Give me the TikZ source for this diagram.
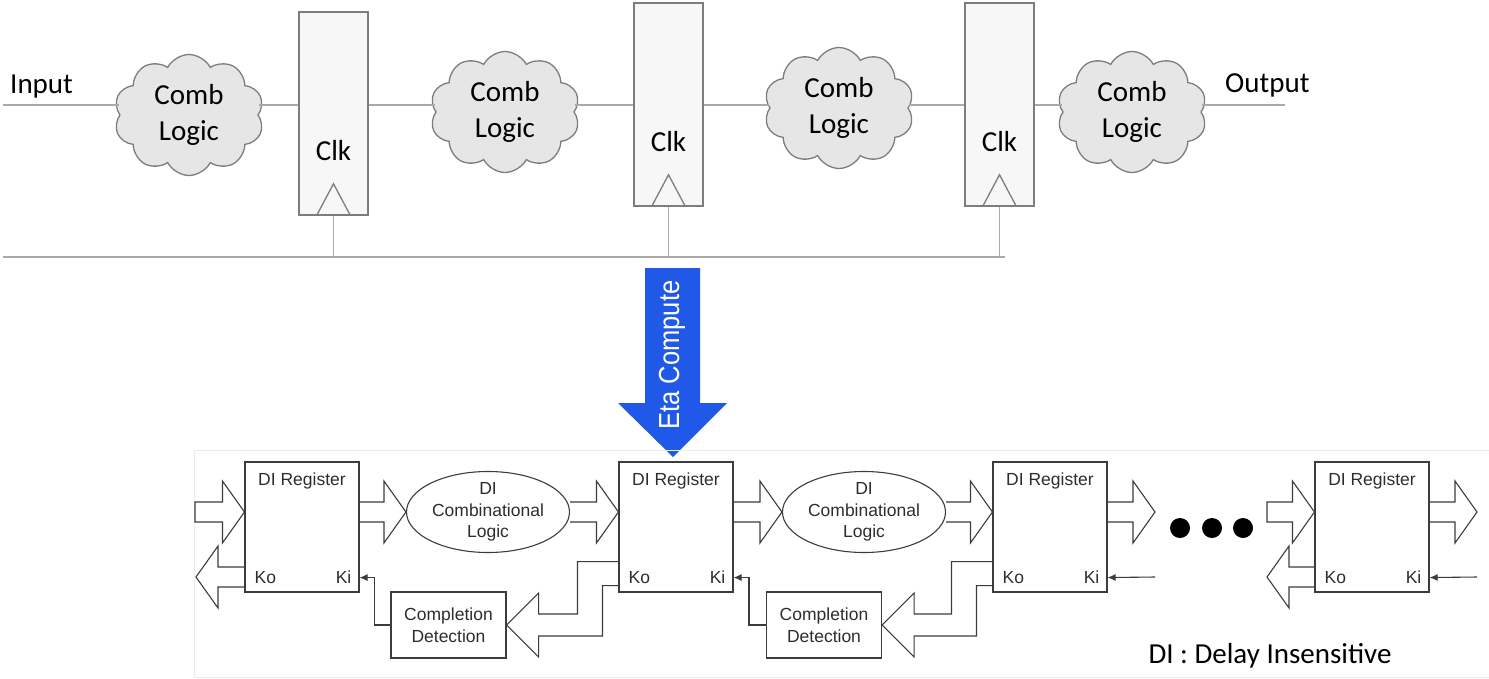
\documentclass[tikz,border=0pt]{standalone}
\usepackage{fontspec}
\setmainfont{Carlito}
\newfontfamily\arialfont{Liberation Sans}
\usepackage{tikz}
\usetikzlibrary{shapes, arrows.meta, calc, positioning}
\definecolor{linegray}{RGB}{170,170,170}
\definecolor{boxgray}{RGB}{125,125,125}
\definecolor{regfill}{RGB}{247,247,247}
\definecolor{cloudfill}{RGB}{230,230,230}
\definecolor{darkline}{RGB}{60,60,60}
\definecolor{ditextcol}{RGB}{45,45,45}
\definecolor{etablue}{RGB}{32,88,232}

%% hollow block arrow, open tail / closed tail
\newcommand{\fatarrow}[2]{%
  \draw[fat] let \p1=(#1), \p2=(#2), \n1={sign(\x2-\x1)} in
    (\x1,{\y1+10pt}) -- ({\x2-(\n1)*22pt},{\y1+10pt}) -- ({\x2-(\n1)*22pt},{\y1+31pt})
    -- (\x2,\y1) -- ({\x2-(\n1)*22pt},{\y1-31pt}) -- ({\x2-(\n1)*22pt},{\y1-10pt}) -- (\x1,{\y1-10pt});}
\newcommand{\fatarrowc}[2]{%
  \draw[fat] let \p1=(#1), \p2=(#2), \n1={sign(\x2-\x1)} in
    (\x1,{\y2+10pt}) -- ({\x2-(\n1)*22pt},{\y2+10pt}) -- ({\x2-(\n1)*22pt},{\y2+31pt})
    -- (\x2,\y2) -- ({\x2-(\n1)*22pt},{\y2-31pt}) -- ({\x2-(\n1)*22pt},{\y2-10pt}) -- (\x1,{\y2-10pt}) -- cycle;}
%% bent block arrow from a register's Ko side into a completion box
\newcommand{\cdarrow}[2]{%
  \draw[fat] let \p1=(#1.east), \p2=(#2.south west) in
    (\x2,{\y2+31pt}) -- ({\x2-41pt},{\y2+31pt}) -- ({\x2-41pt},{\y1+11pt}) -- ({\x1+32pt},{\y1+11pt})
    -- ({\x1+32pt},{\y1+32pt}) -- (\p1) -- ({\x1+32pt},{\y1-32pt}) -- ({\x1+32pt},{\y1-11pt})
    -- ({\x2-16pt},{\y1-11pt}) -- ({\x2-16pt},{\y2+7pt}) -- (\x2,{\y2+7pt});}

\begin{document}
\begin{tikzpicture}[x=1pt, y=-1pt,
	wire/.style={draw=linegray, line width=1.2pt},
	combcloud/.style={cloud, cloud puffs=10, cloud puff arc=125, aspect=1.25, draw=boxgray, fill=cloudfill, line width=1.3pt, minimum width=150pt, minimum height=121pt, inner sep=0pt, align=center, font=\fontsize{29}{36}\selectfont},
	ffbox/.style={draw=boxgray, fill=regfill, line width=1.5pt, minimum width=69pt, minimum height=203pt, inner sep=0pt},
	bigtext/.style={font=\fontsize{29}{36}\selectfont, inner sep=0pt},
	ditext/.style={font=\arialfont\fontsize{17.5}{21.5}\selectfont, text=ditextcol, inner sep=0pt, align=center},
	dibox/.style={draw=darkline, line width=1.1pt, minimum width=114pt, minimum height=130pt, inner sep=0pt},
	diellipse/.style={ellipse, draw=darkline, line width=1.1pt, minimum width=163pt, minimum height=81pt, inner sep=0pt},
	cdbox/.style={ditext, draw=darkline, line width=1.1pt, minimum width=115pt, minimum height=66pt},
	fat/.style={draw=darkline, line width=1.1pt, line join=miter},
	kiarrow/.style={draw=darkline, line width=1.1pt, -{Latex[length=8pt,width=7pt]}}]
	\useasboundingbox (0,0) rectangle (1489,678);

	%% synchronous pipeline
	\node[combcloud] (c1) at (189,115) {Comb\\Logic};
	\node[combcloud] (c2) at (505,112) {Comb\\Logic};
	\node[combcloud] (c3) at (839,108) {Comb\\Logic};
	\node[combcloud] (c4) at (1132,112) {Comb\\Logic};
	\node[ffbox] (r1) at (333.5,113.5) {};
	\node[ffbox] (r2) at (668.5,104.5) {};
	\node[ffbox] (r3) at (999.5,104.5) {};
	\foreach \r in {r1,r2,r3} {
		\node[bigtext] (\r clk) at ([yshift=-37pt]\r.center) {Clk};
		\draw[draw=boxgray, line width=1.3pt] ([xshift=-17pt]\r.south) -- ([yshift=32pt]\r.south) -- ([xshift=17pt]\r.south);
	}
	\node[bigtext, anchor=base west] (inlabel) at (10,93) {Input};
	\node[bigtext, anchor=base west] (outlabel) at (1225,92) {Output};
	\coordinate (inL) at (3,105);
	\coordinate (outR) at (1285,105);
	\coordinate (busL) at (3,257);
	\coordinate (busR) at (1005,257);
	\draw[wire] (inL) -- (inL -| c1.west);
	\draw[wire] (c1.east |- inL) -- (r1.west |- inL);
	\draw[wire] (r1.east |- inL) -- (c2.west |- inL);
	\draw[wire] (c2.east |- inL) -- (r2.west |- inL);
	\draw[wire] (r2.east |- inL) -- (c3.west |- inL);
	\draw[wire] (c3.east |- inL) -- (r3.west |- inL);
	\draw[wire] (r3.east |- inL) -- (c4.west |- inL);
	\draw[wire] (c4.east |- inL) -- (outR);
	\draw[wire] (busL) -- (busR);
	\foreach \r in {r1,r2,r3}
		\draw[wire] (\r.south) -- (\r.south |- busL);

	%% Eta Compute arrow
	\fill[etablue] (645,268) -- (700,268) -- (700,403) -- (727,403) -- (673,457) -- (618,403) -- (645,403) -- cycle;
	\node[rotate=90, text=white, inner sep=0pt, font=\arialfont\fontsize{29}{34}\selectfont] (eta) at (672,355) {\scalebox{0.88}[1]{Eta Compute}};

	%% delay insensitive pipeline
	\draw[draw=black!8, line width=1pt] (194,450) rectangle (1489,677);
	\node[dibox] (dr1) at (302,527) {};
	\node[dibox] (dr2) at (676,527) {};
	\node[dibox] (dr3) at (1050,527) {};
	\node[dibox] (dr4) at (1372,527) {};
	\foreach \r in {dr1,dr2,dr3,dr4} {
		\node[ditext] (\r name) at ([yshift=-20pt]\r.north) {DI Register};
		\node[ditext, anchor=west] (\r ko) at ([xshift=10pt, yshift=15pt]\r.south west) {Ko};
		\node[ditext, anchor=east] (\r ki) at ([xshift=-8pt, yshift=15pt]\r.south east) {Ki};
	}
	\node[diellipse] (e1) at (488,512) {};
	\node[diellipse] (e2) at (864,512) {};
	\node[ditext] (e1t) at (e1) {DI\\Combinational\\Logic};
	\node[ditext] (e2t) at (e2) {DI\\Combinational\\Logic};
	\node[cdbox] (cd1) at (448.5,625) {Completion\\Detection};
	\node[cdbox] (cd2) at (824,625) {Completion\\Detection};

	\coordinate (in1) at (195,512);
	\coordinate (ko1) at (196,577);
	\coordinate (out3) at (1155,512);
	\coordinate (ki3) at (1155,577);
	\coordinate (in4) at (1267,512);
	\coordinate (ko4) at (1267,577);
	\coordinate (out4) at (1477,512);
	\coordinate (ki4) at (1477,577);

	\fatarrowc{in1}{[yshift=15pt]dr1.west}
	\fatarrow{[yshift=15pt]dr1.east}{e1.west}
	\fatarrow{e1.east}{[yshift=15pt]dr2.west}
	\fatarrow{[yshift=15pt]dr2.east}{e2.west}
	\fatarrow{e2.east}{[yshift=15pt]dr3.west}
	\fatarrow{[yshift=15pt]dr3.east}{out3}
	\fatarrowc{in4}{[yshift=15pt]dr4.west}
	\fatarrow{[yshift=15pt]dr4.east}{out4}
	\fatarrow{[yshift=-50pt]dr1.west}{ko1}
	\fatarrow{[yshift=-50pt]dr4.west}{ko4}
	\cdarrow{cd1}{dr2}
	\cdarrow{cd2}{dr3}

	\draw[kiarrow] (cd1.west) -- ++(-16,0) |- ([yshift=15pt]dr1.south east);
	\draw[kiarrow] (cd2.west) -- ++(-17,0) |- ([yshift=15pt]dr2.south east);
	\draw[kiarrow] (ki3) -- ([yshift=15pt]dr3.south east);
	\draw[kiarrow] (ki4) -- ([yshift=15pt]dr4.south east);

	\foreach \x in {1180,1212,1243}
		\fill[black] (\x,528) circle (10pt);

	\node[bigtext] (dinote) at (1270,656) {DI : Delay Insensitive};
\end{tikzpicture}
\end{document}
